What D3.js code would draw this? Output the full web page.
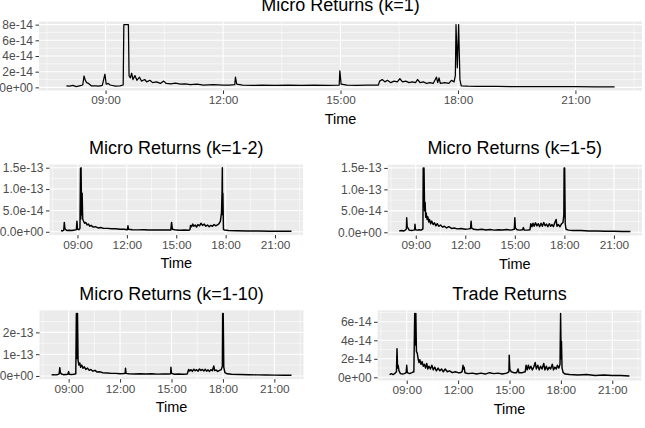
<!DOCTYPE html>
<html lang="en">
<head>
    <meta charset="UTF-8">
    <script src="https://d3js.org/d3.v7.min.js"></script>
    <title>Micro Returns</title>
    <style>
        body { margin: 0; background: white; }
        svg text { font-family: "Liberation Sans", Arial, sans-serif; }
    </style>
</head>
<body>
    <svg id="svg1" width="645" height="428"></svg>

    <script>
        // values are in units of 1e-14, times as HH:MM
        const unit = 1e-14;

        const k1 = [["08:00",0.2],["08:05",0.15],["08:10",0.25],["08:15",0.1],["08:20",0.2],["08:25",0.3],["08:27",1.45],["08:29",0.9],["08:31",0.6],["08:34",0.5],["08:38",0.2],["08:45",0.2],["08:50",0.15],["08:55",0.25],["08:59",1.7],["09:01",0.4],["09:04",0.5],["09:07",0.3],["09:15",0.15],["09:22",0.2],["09:27",0.3],["09:28",8],["09:35",8],["09:36",1.5],["09:38",1.2],["09:40",1.8],["09:42",1.0],["09:45",1.5],["09:48",0.9],["09:52",1.3],["09:55",0.8],["10:00",1.0],["10:03",0.7],["10:08",0.9],["10:12",0.6],["10:18",0.7],["10:24",0.5],["10:29",0.8],["10:33",0.5],["10:40",0.45],["10:47",0.55],["10:55",0.4],["11:02",0.45],["11:10",0.35],["11:20",0.4],["11:30",0.3],["11:45",0.35],["12:00",0.3],["12:10",0.3],["12:18",0.35],["12:19",1.3],["12:21",0.4],["12:30",0.3],["12:45",0.25],["13:00",0.3],["13:20",0.25],["13:40",0.3],["14:00",0.25],["14:20",0.3],["14:40",0.25],["14:58",0.3],["14:59",2.1],["15:01",0.4],["15:10",0.3],["15:25",0.25],["15:40",0.3],["15:58",0.3],["16:00",0.8],["16:04",1.0],["16:08",0.7],["16:12",0.9],["16:17",0.6],["16:22",0.8],["16:27",0.7],["16:31",1.1],["16:35",0.7],["16:40",0.8],["16:45",0.6],["16:50",0.7],["16:55",0.6],["16:58",1.0],["17:02",0.6],["17:07",0.7],["17:12",0.5],["17:17",0.6],["17:22",0.5],["17:27",1.3],["17:29",0.6],["17:31",1.2],["17:33",0.5],["17:40",0.6],["17:46",0.5],["17:50",0.9],["17:54",0.7],["17:56",1.5],["17:57",8],["17:59",2.5],["18:01",8],["18:03",1.0],["18:05",0.2],["18:15",0.15],["18:30",0.12],["19:00",0.12],["19:30",0.1],["20:00",0.1],["20:30",0.08],["21:00",0.08],["21:30",0.06],["22:00",0.06]];

        const k1to2 = [["08:00",0.3],["08:05",0.2],["08:10",0.4],["08:12",2.2],["08:14",0.8],["08:17",0.5],["08:22",0.3],["08:30",0.35],["08:40",0.3],["08:50",0.4],["08:56",0.5],["08:58",2.5],["09:00",0.6],["09:05",0.5],["09:09",0.8],["09:11",14.8],["09:12",3],["09:13",15],["09:15",4],["09:17",9],["09:19",3],["09:22",2.5],["09:26",2.0],["09:30",2.2],["09:35",1.6],["09:40",1.8],["09:45",1.3],["09:50",1.5],["09:57",1.1],["10:05",1.2],["10:15",0.9],["10:25",1.0],["10:35",0.8],["10:50",0.8],["11:05",0.7],["11:20",0.7],["11:35",0.6],["11:50",0.6],["12:02",0.5],["12:04",1.4],["12:06",0.6],["12:20",0.5],["12:40",0.45],["13:00",0.5],["13:20",0.4],["13:40",0.45],["14:00",0.4],["14:20",0.45],["14:40",0.4],["14:43",2.2],["14:46",0.6],["15:00",0.4],["15:15",0.35],["15:30",0.4],["15:45",0.35],["15:50",0.5],["15:52",1.5],["15:56",1.2],["16:00",1.8],["16:04",1.3],["16:09",1.6],["16:14",1.1],["16:19",1.7],["16:25",1.4],["16:30",2.0],["16:36",1.5],["16:42",1.8],["16:48",1.3],["16:54",1.6],["17:00",1.2],["17:06",1.5],["17:12",1.3],["17:18",1.7],["17:24",1.4],["17:30",1.6],["17:36",1.9],["17:41",2.5],["17:45",4.5],["17:47",9.5],["17:48",15],["17:49",4],["17:50",9],["17:52",0.6],["17:55",0.4],["18:10",0.3],["18:40",0.25],["19:20",0.2],["20:00",0.2],["20:40",0.15],["21:20",0.15],["22:00",0.12]];

        const k1to5 = [["08:00",0.3],["08:08",0.4],["08:15",0.3],["08:22",0.5],["08:26",0.8],["08:27",3.4],["08:29",1.2],["08:32",1.0],["08:36",0.5],["08:45",0.4],["08:52",0.5],["08:56",0.6],["08:57",1.9],["08:59",0.6],["09:05",0.5],["09:12",0.6],["09:20",0.5],["09:26",0.8],["09:27",15],["09:29",6],["09:30",15],["09:32",5],["09:34",7],["09:36",3.5],["09:38",4.5],["09:41",3],["09:44",3.6],["09:47",2.4],["09:50",3.0],["09:54",2.0],["09:58",2.6],["10:03",1.8],["10:08",2.2],["10:13",1.5],["10:18",2.0],["10:24",1.4],["10:30",1.7],["10:37",1.2],["10:44",1.4],["10:52",1.0],["11:00",1.3],["11:10",0.9],["11:20",1.0],["11:30",0.8],["11:45",0.9],["12:00",0.7],["12:12",0.8],["12:19",0.9],["12:21",2.6],["12:23",1.0],["12:30",0.7],["12:45",0.6],["13:00",0.7],["13:15",0.55],["13:30",0.65],["13:45",0.5],["14:00",0.6],["14:15",0.55],["14:30",0.65],["14:45",0.5],["14:58",0.7],["15:00",3.4],["15:02",1.0],["15:08",0.6],["15:18",0.5],["15:28",0.6],["15:31",1.1],["15:34",0.5],["15:45",0.5],["15:55",0.6],["15:58",2.0],["16:02",1.3],["16:06",2.1],["16:10",1.4],["16:15",2.2],["16:20",1.5],["16:25",2.0],["16:30",1.3],["16:35",2.1],["16:40",1.4],["16:45",2.3],["16:50",1.5],["16:55",1.9],["17:00",1.3],["17:05",2.0],["17:10",1.4],["17:15",1.8],["17:20",1.3],["17:25",2.2],["17:30",3.0],["17:33",1.4],["17:38",1.8],["17:44",1.3],["17:50",2.0],["17:55",2.3],["17:58",4],["17:59",15],["18:00",6],["18:01",15],["18:03",2],["18:06",0.7],["18:15",0.5],["18:30",0.4],["19:00",0.4],["19:30",0.3],["20:00",0.3],["20:30",0.25],["21:00",0.25],["21:30",0.2],["22:00",0.2]];

        const k1to10 = [["08:00",0.5],["08:08",0.6],["08:15",0.5],["08:22",0.7],["08:27",1.0],["08:29",3.8],["08:31",1.5],["08:35",0.9],["08:42",0.6],["08:50",0.7],["08:57",0.8],["09:00",2.0],["09:02",0.8],["09:10",0.7],["09:18",0.8],["09:25",1.0],["09:27",28.7],["09:29",8],["09:31",28.7],["09:33",7],["09:36",5],["09:39",6],["09:42",4],["09:46",5],["09:50",3.5],["09:55",4.2],["10:00",3],["10:06",3.6],["10:12",2.6],["10:18",3.0],["10:25",2.2],["10:32",2.6],["10:40",1.8],["10:50",1.9],["11:00",1.5],["11:15",1.4],["11:30",1.2],["11:45",1.2],["12:00",1.0],["12:12",1.1],["12:18",1.2],["12:19",3.5],["12:21",1.2],["12:30",1.0],["12:50",0.9],["13:10",1.0],["13:30",0.9],["13:50",1.0],["14:10",0.85],["14:30",0.95],["14:50",0.9],["14:57",1.0],["14:58",4.0],["15:00",1.2],["15:10",0.8],["15:25",0.9],["15:40",0.8],["15:55",0.9],["16:00",3.0],["16:04",2.3],["16:08",2.9],["16:13",2.1],["16:18",3.1],["16:23",2.4],["16:28",2.9],["16:33",2.2],["16:38",3.2],["16:43",2.5],["16:48",3.0],["16:53",2.3],["16:58",3.1],["17:03",2.2],["17:08",2.8],["17:13",2.1],["17:18",2.9],["17:23",2.4],["17:28",4.6],["17:31",2.5],["17:36",2.7],["17:42",2.1],["17:48",2.6],["17:54",2.9],["17:58",4.5],["17:59",28.7],["18:00",10],["18:01",28.7],["18:03",4],["18:07",1.5],["18:15",1.0],["18:30",0.8],["19:00",0.7],["19:30",0.6],["20:00",0.5],["20:30",0.45],["21:00",0.4],["21:30",0.35],["22:00",0.3]];

        const trade = [["08:00",0.3],["08:06",0.4],["08:12",0.3],["08:18",0.4],["08:24",0.6],["08:26",3.1],["08:28",1.0],["08:30",1.3],["08:33",0.7],["08:38",0.4],["08:45",0.35],["08:52",0.4],["08:58",0.5],["09:00",1.3],["09:02",0.5],["09:10",0.4],["09:18",0.5],["09:25",0.6],["09:28",6.9],["09:30",3.5],["09:32",6.9],["09:34",2.8],["09:37",2.6],["09:40",2.0],["09:43",1.6],["09:46",1.9],["09:50",1.4],["09:54",1.7],["09:58",1.2],["10:02",1.4],["10:06",1.0],["10:10",1.5],["10:14",0.9],["10:18",1.2],["10:23",0.9],["10:28",1.3],["10:33",0.8],["10:38",1.1],["10:44",0.7],["10:50",1.0],["10:56",0.7],["11:02",0.9],["11:08",0.6],["11:15",0.9],["11:22",0.6],["11:30",0.7],["11:40",0.5],["11:50",0.6],["12:00",0.5],["12:08",0.5],["12:14",0.6],["12:17",1.3],["12:19",0.9],["12:21",1.1],["12:24",0.5],["12:35",0.4],["12:50",0.45],["13:05",0.35],["13:20",0.45],["13:35",0.35],["13:50",0.5],["14:05",0.4],["14:20",0.45],["14:35",0.35],["14:50",0.45],["14:58",0.6],["14:59",2.4],["15:01",0.9],["15:06",0.6],["15:15",0.5],["15:25",0.5],["15:30",0.9],["15:33",0.5],["15:45",0.5],["15:55",0.6],["15:58",1.3],["16:02",0.8],["16:06",1.3],["16:10",0.9],["16:15",1.2],["16:20",0.8],["16:25",1.1],["16:30",1.6],["16:34",0.9],["16:39",1.3],["16:44",0.8],["16:49",1.2],["16:54",0.9],["17:00",1.5],["17:04",0.8],["17:09",1.2],["17:14",0.8],["17:19",1.1],["17:24",0.9],["17:30",1.4],["17:34",0.8],["17:39",1.1],["17:44",0.9],["17:48",1.3],["17:53",1.0],["17:57",1.4],["17:59",6.9],["18:01",2.0],["18:02",3.9],["18:04",1.0],["18:08",0.5],["18:15",0.35],["18:30",0.3],["19:00",0.25],["19:30",0.3],["20:00",0.2],["20:30",0.25],["21:00",0.2],["21:30",0.2],["22:00",0.15]];

        // y tick values (in units) and their labels
        const ticksK1 = [0, 2, 4, 6, 8];
        const labelsK1 = ["0e+00", "2e-14", "4e-14", "6e-14", "8e-14"];
        const ticksK5 = [0, 5, 10, 15];
        const labelsK5 = ["0.0e+00", "5.0e-14", "1.0e-13", "1.5e-13"];
        const ticksK10 = [0, 10, 20];
        const labelsK10 = ["0e+00", "1e-13", "2e-13"];
        const ticksTrade = [0, 2, 4, 6];
        const labelsTrade = ["0e+00", "2e-14", "4e-14", "6e-14"];

        const titles = ["Micro Returns (k=1)", "Micro Returns (k=1-2)", "Micro Returns (k=1-5)", "Micro Returns (k=1-10)", "Trade Returns"];
        const xTitle = "Time";

        // panel layout (pixel boxes of each grey plot area)
        const panels = [
            {data: k1,     title: titles[0], yTicks: ticksK1,    yLabels: labelsK1,    x0: 39,    x1: 642,   y0: 21.5,  y1: 90.5,  lw: 1.25},
            {data: k1to2,  title: titles[1], yTicks: ticksK5,    yLabels: labelsK5,    x0: 49.5,  x1: 303,   y0: 164.5, y1: 235,   lw: 1.45},
            {data: k1to5,  title: titles[2], yTicks: ticksK5,    yLabels: labelsK5,    x0: 387.7, x1: 642,   y0: 164.7, y1: 235.5, lw: 1.45},
            {data: k1to10, title: titles[3], yTicks: ticksK10,   yLabels: labelsK10,   x0: 39.5,  x1: 303.5, y0: 310.3, y1: 379.1, lw: 1.45},
            {data: trade,  title: titles[4], yTicks: ticksTrade, yLabels: labelsTrade, x0: 377.6, x1: 641.4, y0: 310.3, y1: 380.5, lw: 1.45}
        ];

        const svg1 = d3.select("svg#svg1");
        const parseTime = d3.timeParse("%H:%M");
        const fmt = d3.timeFormat("%H:%M");

        panels.forEach(p => {
            const data = p.data.map(d => ({t: parseTime(d[0]), v: d[1] * unit}));

            // x scale with ggplot-like 5% expansion
            const tExt = d3.extent(data, d => d.t);
            const pad = (tExt[1] - tExt[0]) * 0.05;
            const xScale = d3.scaleTime()
                .domain([new Date(+tExt[0] - pad), new Date(+tExt[1] + pad)])
                .range([p.x0, p.x1]);

            const vMax = d3.max(data, d => d.v);
            const yScale = d3.scaleLinear()
                .domain([-vMax * 0.05, vMax * 1.05])
                .range([p.y1, p.y0]);

            const g = svg1.append("g");

            // panel background
            g.append("rect")
                .attr("x", p.x0).attr("y", p.y0)
                .attr("width", p.x1 - p.x0).attr("height", p.y1 - p.y0)
                .attr("fill", "#EBEBEB");

            // grid: minor then major
            const xMajor = xScale.ticks(d3.timeHour.every(3));
            const step = 3 * 3600 * 1000;
            const xMinor = [new Date(+xMajor[0] - step / 2)]
                .concat(xMajor.map(d => new Date(+d + step / 2)))
                .filter(d => d >= xScale.domain()[0] && d <= xScale.domain()[1]);

            const yMajor = p.yTicks.map(v => v * unit);
            const yStep = yMajor[1] - yMajor[0];
            const yMinor = [yMajor[0] - yStep / 2].concat(yMajor.map(v => v + yStep / 2))
                .filter(v => v >= yScale.domain()[0] && v <= yScale.domain()[1]);

            g.selectAll(".ymin").data(yMinor).enter().append("line")
                .attr("x1", p.x0).attr("x2", p.x1)
                .attr("y1", d => yScale(d)).attr("y2", d => yScale(d))
                .attr("stroke", "white").attr("stroke-width", 0.55);
            g.selectAll(".xmin").data(xMinor).enter().append("line")
                .attr("y1", p.y0).attr("y2", p.y1)
                .attr("x1", d => xScale(d)).attr("x2", d => xScale(d))
                .attr("stroke", "white").attr("stroke-width", 0.55);
            g.selectAll(".ymaj").data(yMajor).enter().append("line")
                .attr("x1", p.x0).attr("x2", p.x1)
                .attr("y1", d => yScale(d)).attr("y2", d => yScale(d))
                .attr("stroke", "white").attr("stroke-width", 1.1);
            g.selectAll(".xmaj").data(xMajor).enter().append("line")
                .attr("y1", p.y0).attr("y2", p.y1)
                .attr("x1", d => xScale(d)).attr("x2", d => xScale(d))
                .attr("stroke", "white").attr("stroke-width", 1.1);

            // the series
            const lineGen = d3.line()
                .x(d => xScale(d.t))
                .y(d => yScale(d.v));

            g.append("path")
                .datum(data)
                .attr("fill", "none")
                .attr("stroke", "black")
                .attr("stroke-width", p.lw)
                .attr("stroke-linejoin", "round")
                .attr("d", lineGen);

            // y axis
            const leftAxis = d3.axisLeft(yScale)
                .tickValues(yMajor)
                .tickFormat((d, i) => p.yLabels[i])
                .tickSize(3.5).tickPadding(2.5);
            const ya = g.append("g")
                .attr("transform", `translate(${p.x0},0)`)
                .call(leftAxis);
            ya.select(".domain").remove();
            ya.selectAll(".tick line").attr("stroke", "#333333").attr("stroke-width", 1);
            ya.selectAll(".tick text").attr("fill", "#4D4D4D").style("font-size", "12px")
                .style("font-family", "'Liberation Sans', Arial, sans-serif");

            // x axis
            const bottomAxis = d3.axisBottom(xScale)
                .tickValues(xMajor)
                .tickFormat(fmt)
                .tickSize(3.5).tickPadding(2);
            const xa = g.append("g")
                .attr("transform", `translate(0,${p.y1})`)
                .call(bottomAxis);
            xa.select(".domain").remove();
            xa.selectAll(".tick line").attr("stroke", "#333333").attr("stroke-width", 1);
            xa.selectAll(".tick text").attr("fill", "#4D4D4D").style("font-size", "11.8px")
                .style("font-family", "'Liberation Sans', Arial, sans-serif");

            const cx = (p.x0 + p.x1) / 2;

            // axis title and panel title
            g.append("text")
                .attr("x", cx).attr("y", p.y1 + 33.3)
                .attr("text-anchor", "middle")
                .style("font-size", "14.5px")
                .text(xTitle);

            // top title sits partly above the frame, as in the source image
            g.append("text")
                .attr("x", cx).attr("y", p.y0 - 10.5)
                .attr("text-anchor", "middle")
                .style("font-size", "18px")
                .text(p.title);
        });
    </script>
</body>
</html>
